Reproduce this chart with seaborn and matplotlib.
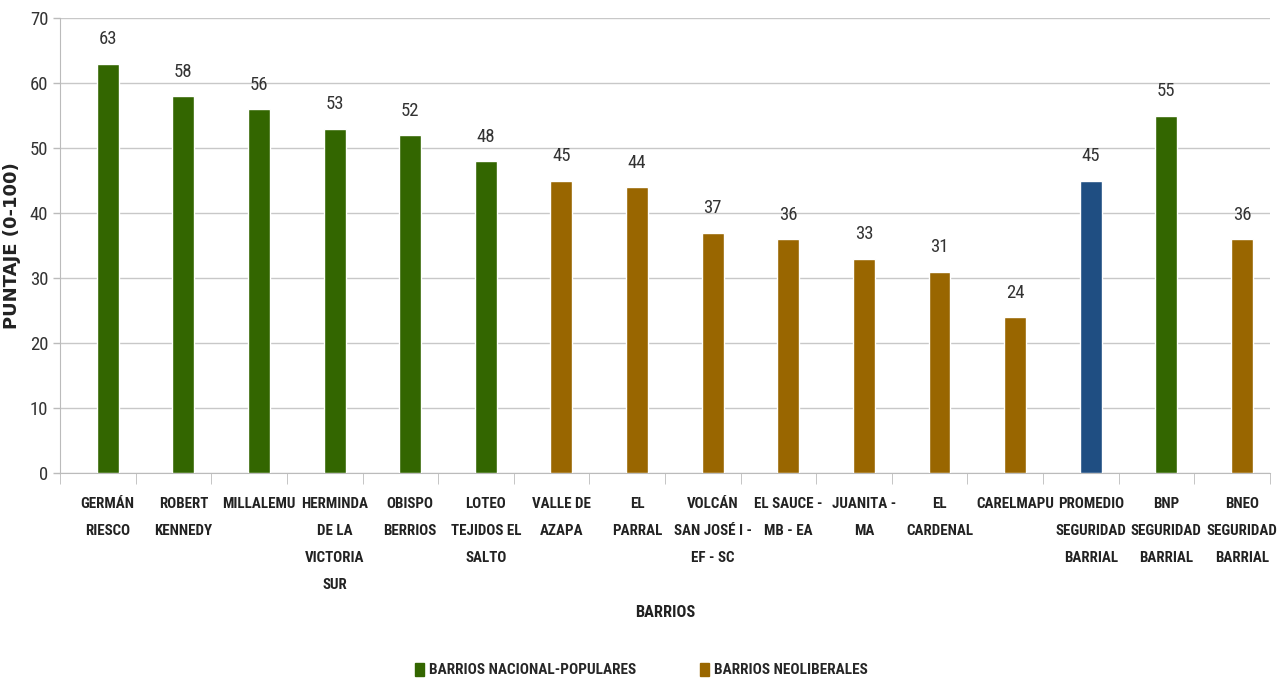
import matplotlib
matplotlib.use("Agg")
import matplotlib.pyplot as plt
import matplotlib.patches as mpatches
from matplotlib import font_manager
import seaborn as sns
import pandas as pd

barrios = ["GERMÁN\nRIESCO", "ROBERT\nKENNEDY", "MILLALEMU", "HERMINDA\nDE LA\nVICTORIA\nSUR",
           "OBISPO\nBERRIOS", "LOTEO\nTEJIDOS EL\nSALTO", "VALLE DE\nAZAPA", "EL\nPARRAL",
           "VOLCÁN\nSAN JOSÉ I -\nEF - SC", "EL SAUCE -\nMB - EA", "JUANITA -\nMA", "EL\nCARDENAL",
           "CARELMAPU", "PROMEDIO\nSEGURIDAD\nBARRIAL", "BNP\nSEGURIDAD\nBARRIAL", "BNEO\nSEGURIDAD\nBARRIAL"]
puntaje = [63, 58, 56, 53, 52, 48, 45, 44, 37, 36, 33, 31, 24, 45, 55, 36]
grupo = ["BARRIOS NACIONAL-POPULARES"] * 6 + ["BARRIOS NEOLIBERALES"] * 7 + \
        ["PROMEDIO", "BARRIOS NACIONAL-POPULARES", "BARRIOS NEOLIBERALES"]

colores = {"BARRIOS NACIONAL-POPULARES": "#336600",
           "BARRIOS NEOLIBERALES": "#996600",
           "PROMEDIO": "#1F4E82"}

df = pd.DataFrame({"barrio": barrios, "puntaje": puntaje, "grupo": grupo})

sns.set_style("white")

# narrow font if there is one, else Liberation Sans a bit smaller
instalados = {f.name for f in font_manager.fontManager.ttflist}
narrow = next((n for n in ["Roboto Condensed", "Liberation Sans Narrow", "Open Sans Condensed"]
               if n in instalados), None)
if narrow:
    plt.rcParams['font.family'] = [narrow, 'DejaVu Sans']
    tick_fs, val_fs = 10.8, 13.5
else:
    plt.rcParams['font.family'] = ['Liberation Sans', 'DejaVu Sans']
    tick_fs, val_fs = 8.6, 12.5

fig, ax = plt.subplots(figsize=(12.78, 6.79), dpi=100)
fig.subplots_adjust(left=0.047, right=0.9937, top=0.973, bottom=0.303)

sns.barplot(data=df, x="barrio", y="puntaje", hue="grupo", palette=colores, saturation=1,
            dodge=False, width=0.29, ax=ax, legend=False, zorder=3)

for i, v in enumerate(puntaje):
    ax.text(i, v + 2.4, str(v), ha="center", va="bottom", fontsize=val_fs, color="#333333")

# bars sit a little right of the middle of each slot, as in the original
shift = 0.13
ax.set_xlim(-0.5 - shift, len(barrios) - 0.5 - shift)
ax.set_ylim(0, 70)
ax.set_yticks(range(0, 71, 10))
ax.yaxis.grid(True, color="#C8C8C8", linewidth=1, zorder=0)
ax.tick_params(axis="y", labelsize=val_fs, labelcolor="#333333", color="#BBBBBB",
               length=5, left=True, width=1)
ax.tick_params(axis="x", length=0, labelsize=tick_fs, pad=17)
for lbl in ax.get_xticklabels():
    lbl.set_fontweight("bold")
    lbl.set_color("#222222")
    lbl.set_linespacing(2.2)

# separators between categories
ax.set_xticks([i + 0.5 - shift for i in range(-1, len(barrios))], minor=True)
ax.tick_params(axis="x", which="minor", length=8, color="#BBBBBB", bottom=True)

for s in ["top", "right"]:
    ax.spines[s].set_visible(False)
ax.spines["left"].set_color("#BBBBBB")
ax.spines["bottom"].set_color("#BBBBBB")

ax.set_ylabel("PUNTAJE (0-100)", fontsize=13, fontweight="bold", family="DejaVu Sans",
              color="#222222", labelpad=6)
ax.set_xlabel("BARRIOS", fontsize=tick_fs + 1, fontweight="bold", color="#222222", labelpad=9)

handles = [mpatches.Patch(color=colores["BARRIOS NACIONAL-POPULARES"], label="BARRIOS NACIONAL-POPULARES"),
           mpatches.Patch(color=colores["BARRIOS NEOLIBERALES"], label="BARRIOS NEOLIBERALES")]
fig.legend(handles=handles, loc="lower center", ncol=2, frameon=False,
           bbox_to_anchor=(0.502, -0.018), handlelength=0.6, handleheight=0.9, handletextpad=0.3,
           columnspacing=4.2, prop={"size": 11, "weight": "bold"})

fig.savefig("out.png", dpi=100)
